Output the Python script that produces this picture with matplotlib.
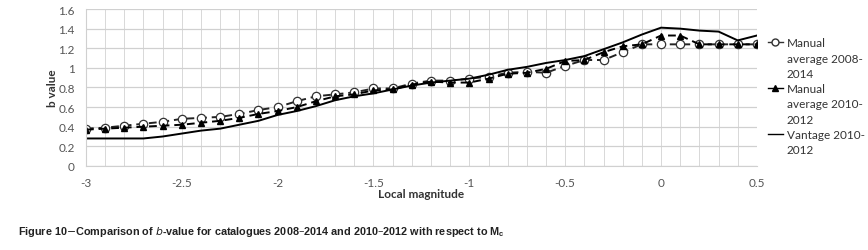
import numpy as np
import matplotlib.pyplot as plt
from matplotlib.lines import Line2D

plt.rcParams['font.family'] = ['Lato', 'DejaVu Sans']

# magnitudes (Mc) and b-values
magnitud = [-3.0, -2.9, -2.8, -2.7, -2.6, -2.5, -2.4, -2.3, -2.2, -2.1, -2.0,
            -1.9, -1.8, -1.7, -1.6, -1.5, -1.4, -1.3, -1.2, -1.1, -1.0,
            -0.9, -0.8, -0.7, -0.6, -0.5, -0.4, -0.3, -0.2, -0.1, 0.0,
            0.1, 0.2, 0.3, 0.4, 0.5]

manual_2008_2014 = [0.38, 0.39, 0.41, 0.43, 0.45, 0.48, 0.49, 0.50, 0.53, 0.57, 0.60,
                    0.66, 0.71, 0.73, 0.75, 0.79, 0.79, 0.84, 0.87, 0.87, 0.89,
                    0.91, 0.95, 0.96, 0.95, 1.02, 1.08, 1.08, 1.16, 1.24, 1.24,
                    1.24, 1.24, 1.24, 1.24, 1.24]

manual_2010_2012 = [0.37, 0.38, 0.39, 0.40, 0.41, 0.42, 0.44, 0.46, 0.49, 0.53, 0.56,
                    0.60, 0.66, 0.71, 0.73, 0.77, 0.78, 0.83, 0.86, 0.85, 0.85,
                    0.89, 0.94, 0.95, 0.99, 1.07, 1.08, 1.16, 1.22, 1.24, 1.33,
                    1.33, 1.24, 1.24, 1.24, 1.24]

vantage_2010_2012 = [0.28, 0.28, 0.28, 0.28, 0.30, 0.33, 0.36, 0.38, 0.42, 0.46, 0.52,
                     0.56, 0.61, 0.67, 0.71, 0.74, 0.78, 0.82, 0.85, 0.87, 0.89,
                     0.93, 0.98, 1.01, 1.05, 1.08, 1.12, 1.19, 1.26, 1.34, 1.41,
                     1.40, 1.38, 1.37, 1.28, 1.33]

# legend text, one list per series (wrapped like the original)
etiquetas = [["Manual", "average 2008-", "2014"],
             ["Manual", "average 2010-", "2012"],
             ["Vantage 2010-", "2012"]]

fig = plt.figure(figsize=(8.68, 2.51), dpi=100)
ax = fig.add_axes([0.099, 0.335, 0.773, 0.625])

ax.plot(magnitud, manual_2008_2014, color='#222222', linestyle=(0, (4, 2.5)), linewidth=1.4,
        marker='o', markersize=6, markerfacecolor='white', markeredgecolor='#333333', markeredgewidth=0.9)
ax.plot(magnitud, manual_2010_2012, color='black', linestyle=(0, (4, 2.5)), linewidth=1.4,
        marker='^', markersize=4.5, markerfacecolor='black', markeredgecolor='black')
ax.plot(magnitud, vantage_2010_2012, color='black', linestyle='-', linewidth=1.4)

ax.set_xlim(-3, 0.5)
ax.set_ylim(0, 1.6)
ax.set_xticks([-3, -2.5, -2, -1.5, -1, -0.5, 0, 0.5])
ax.set_xticklabels(['-3', '-2.5', '-2', '-1.5', '-1', '-0.5', '0', '0.5'])
ax.set_xticks(np.arange(-3, 0.51, 0.1), minor=True)
ax.set_yticks(np.arange(0, 1.61, 0.2))
ax.set_yticklabels(['0', '0.2', '0.4', '0.6', '0.8', '1', '1.2', '1.4', '1.6'])

ax.grid(which='major', axis='y', color='#d0d0d0', linewidth=0.9)
ax.grid(which='both', axis='x', color='#d8d8d8', linewidth=0.7)
ax.tick_params(which='both', length=0, labelsize=8.5, labelcolor='#555555', pad=8)
for s in ['top', 'right']:
    ax.spines[s].set_visible(False)
ax.spines['left'].set_color('#d0d0d0')
ax.spines['bottom'].set_color('#d0d0d0')

ax.set_xlabel('Local magnitude', fontsize=8.5, fontweight='bold', color='#333333', labelpad=0)
ax.set_ylabel('b value', fontsize=8.5, fontweight='bold', color='#333333', labelpad=0)

marcas = [
    Line2D([], [], color='#333333', linewidth=1, marker='o', markersize=5,
           markerfacecolor='white', markeredgecolor='#333333'),
    Line2D([], [], color='black', linewidth=1, marker='^', markersize=4, markerfacecolor='black'),
    Line2D([], [], color='black', linewidth=1),
]
handles, textos = [], []
for h, lineas in zip(marcas, etiquetas):
    for i, t in enumerate(lineas):
        handles.append(h if i == 0 else Line2D([], [], linestyle='none'))
        textos.append(t)

ax.legend(handles, textos, loc='upper left', bbox_to_anchor=(1.016, 0.82), frameon=False,
          fontsize=8.5, handlelength=1.3, handletextpad=0.3, labelspacing=0.36,
          borderpad=0, borderaxespad=0, labelcolor='#333333')

fig.text(0.021, 0.065, r'Figure 10$-$Comparison of $b$-value for catalogues 2008–2014 and 2010–2012 with respect to M$_\mathregular{c}$',
         fontsize=7.8, fontweight='bold', color='#222222', family='Liberation Sans')

fig.savefig('out.png', dpi=100)
